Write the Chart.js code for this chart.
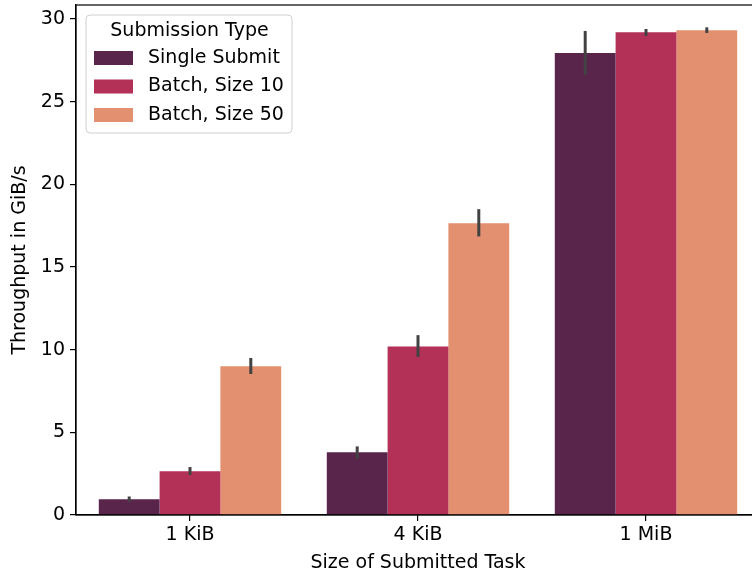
<!DOCTYPE html>
<html>
<head>
<meta charset="utf-8">
<script src="https://cdn.jsdelivr.net/npm/chart.js@4.4.0/dist/chart.umd.min.js"></script>
<style>
  html, body { margin: 0; padding: 0; background: #fff; overflow: hidden; }
  #wrap { width: 752px; height: 574px; overflow: hidden; }
</style>
</head>
<body>
<div id="wrap"><canvas id="barChart" width="762" height="574"></canvas></div>
<script>
// data
const categories = ["1 KiB", "4 KiB", "1 MiB"];
const seriesNames = ["Single Submit", "Batch, Size 10", "Batch, Size 50"];
const singleSubmit = [0.95, 3.8, 27.95];
const batch10 = [2.65, 10.2, 29.2];
const batch50 = [9.0, 17.65, 29.33];
// error bar ranges [low, high]
const singleErr = [[0.78, 1.12], [3.4, 4.15], [26.6, 29.28]];
const batch10Err = [[2.42, 2.9], [9.56, 10.88], [28.98, 29.4]];
const batch50Err = [[8.53, 9.5], [16.85, 18.5], [29.16, 29.5]];
const yTicks = [0, 5, 10, 15, 20, 25, 30];

const colors = ["#5a254a", "#b33057", "#e2906f"];
const FONT = "'DejaVu Sans', sans-serif";
const FSIZE = 19;

const errorBars = {
	id: "errorBars",
	afterDatasetsDraw(chart) {
		const ctx = chart.ctx;
		const y = chart.scales.y;
		ctx.save();
		ctx.strokeStyle = "#424242";
		ctx.lineWidth = 3;
		chart.data.datasets.forEach((ds, di) => {
			const meta = chart.getDatasetMeta(di);
			meta.data.forEach((bar, i) => {
				const [lo, hi] = ds.err[i];
				ctx.beginPath();
				ctx.moveTo(bar.x, y.getPixelForValue(lo));
				ctx.lineTo(bar.x, y.getPixelForValue(hi));
				ctx.stroke();
			});
		});
		ctx.restore();
	},
};

const frameAndLegend = {
	id: "frameAndLegend",
	afterDraw(chart) {
		const ctx = chart.ctx;
		const a = chart.chartArea;
		ctx.save();
		ctx.strokeStyle = "#000";
		ctx.lineWidth = 1.2;
		ctx.strokeRect(a.left, a.top, a.right - a.left, a.bottom - a.top);

		// legend box
		const bx = 86, by = 15, bw = 206, bh = 118, r = 4;
		ctx.beginPath();
		ctx.roundRect(bx, by, bw, bh, r);
		ctx.fillStyle = "rgba(255,255,255,0.8)";
		ctx.fill();
		ctx.strokeStyle = "#d0d0d0";
		ctx.lineWidth = 1;
		ctx.stroke();

		ctx.fillStyle = "#000";
		ctx.font = FSIZE + "px " + FONT;
		ctx.textBaseline = "middle";
		ctx.textAlign = "center";
		ctx.fillText("Submission Type", 189.5, 31);
		ctx.textAlign = "left";
		chart.data.datasets.forEach((ds, i) => {
			const cy = 58 + i * 28.5;
			ctx.fillStyle = ds.backgroundColor;
			ctx.fillRect(94, cy - 7, 39, 14);
			ctx.fillStyle = "#000";
			ctx.fillText(ds.label, 148, cy);
		});
		ctx.restore();
	},
};

const ctx = document.getElementById("barChart").getContext("2d");
new Chart(ctx, {
	type: "bar",
	data: {
		labels: categories,
		datasets: [
			{ label: seriesNames[0], data: singleSubmit, err: singleErr, backgroundColor: colors[0] },
			{ label: seriesNames[1], data: batch10, err: batch10Err, backgroundColor: colors[1] },
			{ label: seriesNames[2], data: batch50, err: batch50Err, backgroundColor: colors[2] },
		],
	},
	options: {
		responsive: false,
		animation: false,
		devicePixelRatio: 1,
		layout: { padding: { top: 5, right: 2, left: 0, bottom: 0 } },
		datasets: { bar: { categoryPercentage: 0.8, barPercentage: 1.0, borderWidth: 0 } },
		scales: {
			x: {
				grid: { offset: false, drawOnChartArea: false, drawTicks: true, tickLength: 6, color: "#000", lineWidth: 1.2 },
				border: { display: true, color: "#000", width: 1.2 },
				ticks: { color: "#000", font: { family: FONT, size: FSIZE }, padding: 3 },
				title: { display: true, text: "Size of Submitted Task", color: "#000", font: { family: FONT, size: FSIZE }, padding: { top: 2, bottom: 0 } },
				afterFit(scale) { scale.height = 59; scale.paddingLeft = 0; scale.paddingRight = 0; },
			},
			y: {
				min: 0,
				max: 30.85,
				afterBuildTicks(scale) { scale.ticks = yTicks.map((v) => ({ value: v })); },
				grid: { drawOnChartArea: false, drawTicks: true, tickLength: 6, color: "#000", lineWidth: 1.2 },
				border: { display: true, color: "#000", width: 1.2 },
				ticks: { color: "#000", font: { family: FONT, size: FSIZE }, padding: 5 },
				title: { display: true, text: "Throughput in GiB/s", color: "#000", font: { family: FONT, size: FSIZE }, padding: { top: 9, bottom: 0 } },
				afterFit(scale) { scale.width = 76; scale.paddingTop = 0; scale.paddingBottom = 0; },
			},
		},
		plugins: {
			legend: { display: false },
			tooltip: { enabled: false },
		},
	},
	plugins: [errorBars, frameAndLegend],
});
</script>
</body>
</html>
